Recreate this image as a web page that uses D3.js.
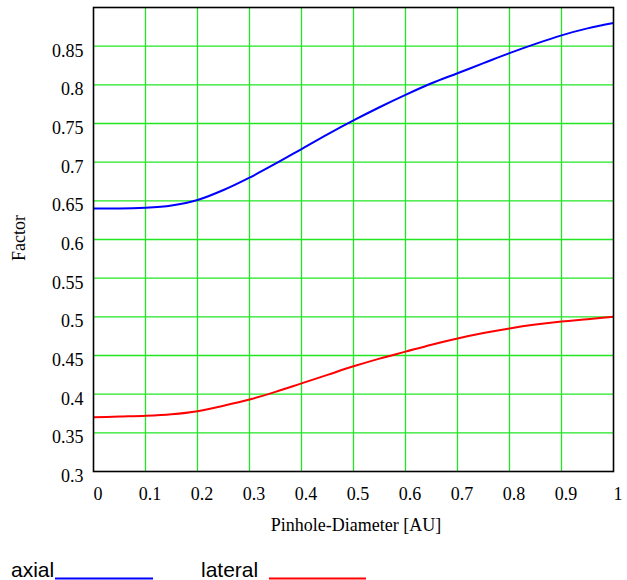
<!DOCTYPE html>
<html>
<head>
<meta charset="utf-8">
<script src="https://cdn.jsdelivr.net/npm/d3@7"></script>
<style>
  body { margin: 0; background: #fff; }
  svg { display: block; }
</style>
</head>
<body>
<div id="chart"></div>
<script>
const diameters = [0, 0.05, 0.1, 0.15, 0.2, 0.25, 0.3, 0.35, 0.4, 0.45, 0.5,
                   0.55, 0.6, 0.65, 0.7, 0.75, 0.8, 0.85, 0.9, 0.95, 1.0];
const axial = [0.640, 0.640, 0.641, 0.644, 0.651, 0.664, 0.680, 0.698, 0.717, 0.736, 0.754,
               0.771, 0.787, 0.802, 0.815, 0.828, 0.841, 0.853, 0.864, 0.873, 0.880];
const lateral = [0.370, 0.371, 0.372, 0.374, 0.378, 0.385, 0.393, 0.403, 0.414, 0.425, 0.436,
                 0.446, 0.455, 0.464, 0.472, 0.479, 0.485, 0.490, 0.494, 0.497, 0.500];
const xTicks = [0, 0.1, 0.2, 0.3, 0.4, 0.5, 0.6, 0.7, 0.8, 0.9, 1];
const yTicks = [0.3, 0.35, 0.4, 0.45, 0.5, 0.55, 0.6, 0.65, 0.7, 0.75, 0.8, 0.85];
const legendItems = [
    { label: 'axial', color: '#0000ff', x: 11, lineFrom: 55, lineTo: 153 },
    { label: 'lateral', color: '#ff0000', x: 201, lineFrom: 269, lineTo: 366 }
];

const W = 627, H = 580;
const plot = { left: 93.5, right: 613.5, top: 7.5, bottom: 471.5 };

const svg = d3.select('#chart').append('svg')
    .attr('width', W)
    .attr('height', H)
    .style('font-family', '"Liberation Serif", "Times New Roman", serif');

const x = d3.scaleLinear().domain([0, 1]).range([plot.left, plot.right]);
const y = d3.scaleLinear().domain([0.3, 0.9]).range([plot.bottom, plot.top]);

// grid
const grid = svg.append('g').attr('stroke', '#22e622').attr('stroke-width', 1.3);
grid.selectAll('.vgrid')
    .data(xTicks.filter(d => d > 0 && d < 1))
    .enter().append('line')
    .attr('x1', d => x(d)).attr('x2', d => x(d))
    .attr('y1', plot.top).attr('y2', plot.bottom);
grid.selectAll('.hgrid')
    .data(yTicks.filter(d => d > 0.3))
    .enter().append('line')
    .attr('x1', plot.left).attr('x2', plot.right)
    .attr('y1', d => y(d)).attr('y2', d => y(d));

// curves
const line = series => d3.line()
    .x((d, i) => x(diameters[i]))
    .y(d => y(d))
    .curve(d3.curveMonotoneX)(series);

svg.append('path')
    .attr('d', line(axial))
    .attr('fill', 'none')
    .attr('stroke', '#0000ff')
    .attr('stroke-width', 2);

svg.append('path')
    .attr('d', line(lateral))
    .attr('fill', 'none')
    .attr('stroke', '#ff0000')
    .attr('stroke-width', 2);

// frame
svg.append('rect')
    .attr('x', plot.left).attr('y', plot.top)
    .attr('width', plot.right - plot.left)
    .attr('height', plot.bottom - plot.top)
    .attr('fill', 'none')
    .attr('stroke', '#000')
    .attr('stroke-width', 1.6);

// axes (tick labels only, the frame is drawn above)
const yAxis = svg.append('g')
    .attr('transform', `translate(${plot.left},0)`)
    .call(d3.axisLeft(y).tickValues(yTicks).tickSize(0).tickPadding(10).tickFormat(d3.format('')));
yAxis.select('.domain').remove();
yAxis.selectAll('text')
    .attr('dy', '0.55em')
    .style('font-family', '"Liberation Serif", serif')
    .style('font-size', '18px')
    .attr('fill', '#000');

const xAxis = svg.append('g')
    .attr('transform', `translate(0,${plot.bottom})`)
    .call(d3.axisBottom(x).tickValues(xTicks).tickSize(0).tickPadding(16).tickFormat(d3.format('')));
xAxis.select('.domain').remove();
xAxis.selectAll('text')
    .attr('dx', '4')
    .style('font-family', '"Liberation Serif", serif')
    .style('font-size', '18px')
    .attr('fill', '#000');

// axis titles
svg.append('text')
    .attr('x', 356)
    .attr('y', 531)
    .attr('text-anchor', 'middle')
    .style('font-size', '18px')
    .text('Pinhole-Diameter [AU]');

svg.append('text')
    .attr('transform', 'translate(25,238) rotate(-90)')
    .attr('text-anchor', 'middle')
    .style('font-size', '18px')
    .text('Factor');

// legend: label followed by an underscore-style line in the series colour
const legend = svg.append('g');
legend.selectAll('text')
    .data(legendItems)
    .enter().append('text')
    .attr('x', d => d.x)
    .attr('y', 577)
    .style('font-family', '"Liberation Sans", Arial, sans-serif')
    .style('font-size', '21px')
    .attr('fill', '#000')
    .text(d => d.label);
legend.selectAll('line')
    .data(legendItems)
    .enter().append('line')
    .attr('x1', d => d.lineFrom)
    .attr('x2', d => d.lineTo)
    .attr('y1', 578.5)
    .attr('y2', 578.5)
    .attr('stroke', d => d.color)
    .attr('stroke-width', 2);
</script>
</body>
</html>
